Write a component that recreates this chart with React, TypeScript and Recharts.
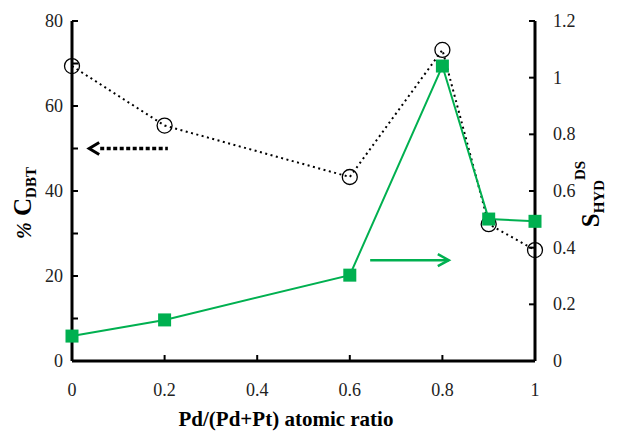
import { ComposedChart, Line, XAxis, YAxis, ReferenceLine } from 'recharts';

const ratio = [0, 0.2, 0.6, 0.8, 0.9, 1];
const convDBT = [69.4, 55.4, 43.3, 73.2, 32.2, 26.1];
const selHYD = [0.088, 0.145, 0.303, 1.041, 0.501, 0.493];

const xTicks = [0, 0.2, 0.4, 0.6, 0.8, 1];
const leftTicks = [0, 10, 20, 30, 40, 50, 60, 70, 80];
const rightTicks = [0, 0.2, 0.4, 0.6, 0.8, 1, 1.2];

const data = ratio.map((x, i) => ({ x, conv: convDBT[i], sel: selHYD[i] }));

const serif = { fontFamily: 'Liberation Serif, DejaVu Serif, serif' };
const GREEN = '#00B050';

const XTick = (p: any) => (
  <g>
    <line x1={p.x} x2={p.x} y1={p.y} y2={p.y - 6} stroke="#000" strokeWidth={2} />
    <text x={p.x} y={p.y + 35} textAnchor="middle" style={serif} fontSize={18} fill="#222">
      {String(p.payload.value)}
    </text>
  </g>
);

const LeftTick = (p: any) => {
  const v = p.payload.value;
  return (
    <g>
      <line x1={p.x} x2={p.x + 6} y1={p.y} y2={p.y} stroke="#000" strokeWidth={2} />
      {v % 20 === 0 && (
        <text x={p.x - 9} y={p.y + 6} textAnchor="end" style={serif} fontSize={18} fill="#222">
          {String(v)}
        </text>
      )}
    </g>
  );
};

const RightTick = (p: any) => (
  <g>
    <line x1={p.x} x2={p.x - 6} y1={p.y} y2={p.y} stroke="#000" strokeWidth={2} />
    <text x={p.x + 18} y={p.y + 6} textAnchor="start" style={serif} fontSize={18} fill="#222">
      {String(p.payload.value)}
    </text>
  </g>
);

const Circle = (p: any) => (
  <circle key={`c${p.index}`} cx={p.cx} cy={p.cy} r={7.5} fill="none" stroke="#000" strokeWidth={1.3} />
);

const Square = (p: any) => (
  <rect key={`s${p.index}`} x={p.cx - 6.5} y={p.cy - 6.5} width={13} height={13} fill={GREEN} />
);

const leftArrow = (p: any) => (
  <g>
    <line x1={p.x1 + 12} y1={p.y1} x2={p.x2} y2={p.y2} stroke="#000" strokeWidth={3.5} strokeDasharray="4 2.5" />
    <path d={`M${p.x1 + 11},${p.y1 - 6} L${p.x1 + 1},${p.y1} L${p.x1 + 11},${p.y1 + 6}`} fill="none" stroke="#000" strokeWidth={3} />
  </g>
);

const rightArrow = (p: any) => (
  <g>
    <line x1={p.x1} y1={p.y1} x2={p.x2 - 1} y2={p.y2} stroke={GREEN} strokeWidth={2.5} />
    <path d={`M${p.x2 - 12},${p.y2 - 6} L${p.x2 - 1},${p.y2} L${p.x2 - 12},${p.y2 + 6}`} fill="none" stroke={GREEN} strokeWidth={2.5} />
  </g>
);

export default function App() {
  return (
    <div style={{ position: 'absolute', left: 0, top: 0, width: 617, height: 433, background: '#fff' }}>
      <ComposedChart width={617} height={433} data={data} margin={{ top: 21, right: 22, bottom: 0, left: 0 }}>
        <XAxis
          dataKey="x"
          type="number"
          domain={[0, 1]}
          ticks={xTicks}
          tickSize={0}
          tickMargin={0}
          tick={XTick}
          tickLine={false}
          height={72}
          axisLine={{ stroke: '#000', strokeWidth: 3 }}
          label={{
            content: () => (
              <text x={286} y={426} textAnchor="middle" style={serif} fontSize={21} fontWeight="bold" fill="#000">
                Pd/(Pd+Pt) atomic ratio
              </text>
            ),
          }}
        />
        <YAxis
          yAxisId="l"
          orientation="left"
          domain={[0, 80]}
          ticks={leftTicks}
          tickSize={0}
          tickMargin={0}
          tick={LeftTick}
          tickLine={false}
          width={72}
          interval={0}
          axisLine={{ stroke: '#000', strokeWidth: 3 }}
          label={{
            content: () => (
              <text transform="translate(31,203) rotate(-90)" textAnchor="middle" style={serif} fill="#000" fontWeight="bold">
                <tspan fontSize={20} fontStyle="italic">%</tspan>
                <tspan fontSize={25}> C</tspan>
                <tspan fontSize={15} dy={5}>DBT</tspan>
              </text>
            ),
          }}
        />
        <YAxis
          yAxisId="r"
          orientation="right"
          domain={[0, 1.2]}
          ticks={rightTicks}
          tickSize={0}
          tickMargin={0}
          tick={RightTick}
          tickLine={false}
          width={60}
          interval={0}
          axisLine={{ stroke: '#000', strokeWidth: 3 }}
          label={{
            content: () => (
              <text transform="translate(599,194) rotate(-90)" textAnchor="middle" style={serif} fill="#000" fontWeight="bold">
                <tspan fontSize={25}>S</tspan>
                <tspan fontSize={15} dy={5}>HYD</tspan>
                <tspan fontSize={15} dy={-19}>DS</tspan>
              </text>
            ),
          }}
        />
        <ReferenceLine
          yAxisId="l"
          segment={[{ x: 0.035, y: 50 }, { x: 0.207, y: 50 }]}
          shape={leftArrow}
        />
        <ReferenceLine
          yAxisId="r"
          segment={[{ x: 0.644, y: 0.356 }, { x: 0.816, y: 0.356 }]}
          shape={rightArrow}
        />
        <Line
          yAxisId="l"
          dataKey="conv"
          stroke="#000"
          strokeWidth={2}
          strokeDasharray="2 3.5"
          dot={Circle}
          activeDot={false}
          isAnimationActive={false}
        />
        <Line
          yAxisId="r"
          dataKey="sel"
          stroke={GREEN}
          strokeWidth={2}
          dot={Square}
          activeDot={false}
          isAnimationActive={false}
        />
      </ComposedChart>
    </div>
  );
}
